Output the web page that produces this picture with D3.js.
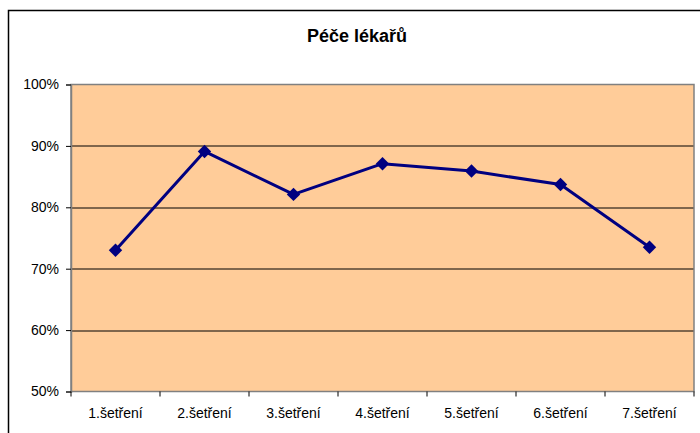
<!DOCTYPE html>
<html>
<head>
<meta charset="utf-8">
<script src="https://cdn.jsdelivr.net/npm/d3@7"></script>
<style>
  body { margin: 0; background: #fff; }
  svg { display: block; font-family: "Liberation Sans", Arial, sans-serif; }
</style>
</head>
<body>
<div id="chart"></div>
<script>
// Data
const categories = ["1.šetření", "2.šetření", "3.šetření", "4.šetření", "5.šetření", "6.šetření", "7.šetření"];
const values = [0.730, 0.891, 0.821, 0.871, 0.859, 0.837, 0.735];
const yTicks = [0.5, 0.6, 0.7, 0.8, 0.9, 1.0];
const title = "Péče lékařů";

/*******************************/
/*    Declare the constants    */
/*******************************/
const width = 700;
const height = 433;
const margin = {top: 84.5, right: 6, bottom: 41.5, left: 71};
const innerWidth = width - margin.left - margin.right;
const innerHeight = height - margin.top - margin.bottom;

const svg = d3.select("#chart")
  .append("svg")
    .attr("width", width)
    .attr("height", height);

// Outer chart border (only left and top edges are visible)
svg.append("path")
    .attr("d", `M8.5,${height} V10.5 H${width}`)
    .attr("fill", "none")
    .attr("stroke", "#000")
    .attr("stroke-width", 1.5);

// Title
svg.append("text")
    .text(title)
    .attr("x", 357)
    .attr("y", 42)
    .attr("text-anchor", "middle")
    .attr("font-size", 18)
    .attr("font-weight", "bold");

const innerChart = svg.append("g")
    .attr("transform", `translate(${margin.left}, ${margin.top})`);

/****************************/
/*    Declare the scales    */
/****************************/
const xScale = d3.scaleBand()
  .domain(categories)
  .range([0, innerWidth])
  .padding(0);

const yScale = d3.scaleLinear()
  .domain([0.5, 1.0])
  .range([innerHeight, 0]);

// Plot area background
innerChart.append("rect")
    .attr("width", innerWidth)
    .attr("height", innerHeight)
    .attr("fill", "#FFCC99");

// Gridlines
innerChart.selectAll(".grid")
  .data(yTicks.slice(1, -1))
  .join("line")
    .attr("class", "grid")
    .attr("x1", 0)
    .attr("x2", innerWidth)
    .attr("y1", d => Math.round(yScale(d)) + 0.5)
    .attr("y2", d => Math.round(yScale(d)) + 0.5)
    .attr("stroke", "#000")
    .attr("stroke-width", 1);

// Plot border
innerChart.append("rect")
    .attr("width", innerWidth)
    .attr("height", innerHeight)
    .attr("fill", "none")
    .attr("stroke", "#808080")
    .attr("stroke-width", 1.5);

/**************************/
/*      Add the axes      */
/**************************/
const leftAxis = d3.axisLeft(yScale)
  .tickValues(yTicks)
  .tickFormat(d3.format(".0%"))
  .tickSize(5)
  .tickPadding(7);
const yAxis = innerChart.append("g").call(leftAxis);
yAxis.select(".domain").attr("stroke", "#808080").attr("stroke-width", 1.5);
yAxis.selectAll(".tick line").attr("stroke", "#000");
yAxis.selectAll("text")
    .attr("font-size", 14)
    .attr("font-family", "'Liberation Sans', Arial, sans-serif")
    .attr("fill", "#000");

const bottomAxis = d3.axisBottom(xScale)
  .tickSize(0)
  .tickPadding(16.5);
const xAxis = innerChart.append("g")
    .attr("transform", `translate(0, ${innerHeight})`)
    .call(bottomAxis);
xAxis.select(".domain").remove();
xAxis.selectAll("text")
    .attr("font-size", 14)
    .attr("font-family", "'Liberation Sans', Arial, sans-serif")
    .attr("fill", "#000");

// Category boundary ticks
const boundaries = categories.map(d => xScale(d)).concat([xScale.range()[1]]);
innerChart.selectAll(".xtick")
  .data(boundaries)
  .join("line")
    .attr("class", "xtick")
    .attr("x1", d => d)
    .attr("x2", d => d)
    .attr("y1", innerHeight)
    .attr("y2", innerHeight + 5)
    .attr("stroke", "#000");

/**************************/
/*    Line and markers    */
/**************************/
const cx = d => xScale(d) + xScale.bandwidth() / 2;

const line = d3.line()
  .x((d, i) => cx(categories[i]))
  .y(d => yScale(d));

innerChart.append("path")
    .datum(values)
    .attr("d", line)
    .attr("fill", "none")
    .attr("stroke", "#000080")
    .attr("stroke-width", 3)
    .attr("stroke-linejoin", "round");

innerChart.selectAll(".marker")
  .data(values)
  .join("path")
    .attr("class", "marker")
    .attr("d", d3.symbol(d3.symbolSquare, 90))
    .attr("transform", (d, i) => `translate(${cx(categories[i])}, ${yScale(d)}) rotate(45)`)
    .attr("fill", "#000080");
</script>
</body>
</html>
